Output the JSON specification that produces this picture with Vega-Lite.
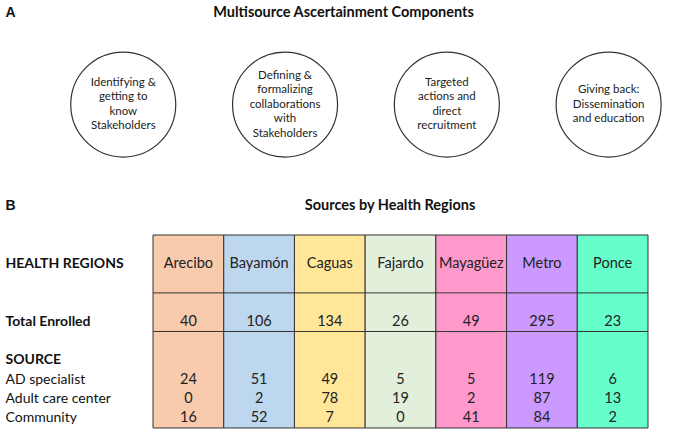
{
  "$schema": "https://vega.github.io/schema/vega-lite/v6.json",
  "width": 675,
  "height": 437,
  "autosize": {"type": "fit", "contains": "padding"},
  "padding": 0,
  "background": "white",
  "config": {"view": {"stroke": null}, "font": "Lato"},
  "resolve": {"scale": {"x": "independent"}},
  "layer": [
    {
      "data": {"values": [
        {"region": "Arecibo", "Total Enrolled": 40, "AD specialist": 24, "Adult care center": 0, "Community": 16},
        {"region": "Bayamón", "Total Enrolled": 106, "AD specialist": 51, "Adult care center": 2, "Community": 52},
        {"region": "Caguas", "Total Enrolled": 134, "AD specialist": 49, "Adult care center": 78, "Community": 7},
        {"region": "Fajardo", "Total Enrolled": 26, "AD specialist": 5, "Adult care center": 19, "Community": 0},
        {"region": "Mayagüez", "Total Enrolled": 49, "AD specialist": 5, "Adult care center": 2, "Community": 41},
        {"region": "Metro", "Total Enrolled": 295, "AD specialist": 119, "Adult care center": 87, "Community": 84},
        {"region": "Ponce", "Total Enrolled": 23, "AD specialist": 6, "Adult care center": 13, "Community": 2}
      ]},
      "layer": [
        {
          "mark": {"type": "rect", "stroke": "#333333", "strokeWidth": 1},
          "encoding": {
            "x": {"field": "region", "type": "nominal", "title": null, "axis": null,
                  "scale": {"type": "band", "domain": ["_pad", "Arecibo", "Bayamón", "Caguas", "Fajardo", "Mayagüez", "Metro", "Ponce"], "paddingInner": 0, "paddingOuter": 0.773, "align": 0.753}},
            "y": {"datum": "_h1", "type": "nominal", "bandPosition": 0, "title": null,
                  "scale": {"type": "band", "domain": ["A", "_1", "_2", "_3", "_4", "_5", "_6", "_7", "_8", "_9", "B", "_11", "_h1", "HEALTH REGIONS", "_h3", "_t1", "Total Enrolled", "_s1", "SOURCE", "AD specialist", "Adult care center", "Community"], "paddingInner": 0, "paddingOuter": 0.3212, "align": 0.274},
                  "axis": {"title": null, "domain": false, "ticks": false, "tickSize": 0, "grid": false,
                           "labelAlign": "left", "labelPadding": -5, "labelBaseline": "middle", "labelFontSize": 14,
                           "labelColor": "#111111", "labelOverlap": false, "labelBound": false, "labelFlush": false, "labelLimit": 300,
                           "labelExpr": "slice(datum.value, 0, 1) == '_' ? '' : datum.value",
                           "labelFont": {"condition": {"test": "datum.value == 'A' || datum.value == 'B'", "value": "Liberation Sans"}, "value": "Lato"},
                           "labelFontWeight": {"condition": {"test": "indexof(['A', 'B', 'HEALTH REGIONS', 'Total Enrolled', 'SOURCE'], datum.value) >= 0", "value": "bold"}, "value": "normal"}}},
            "y2": {"datum": "Community", "bandPosition": 1},
            "color": {"field": "region", "type": "nominal", "legend": null,
                      "scale": {"domain": ["Arecibo", "Bayamón", "Caguas", "Fajardo", "Mayagüez", "Metro", "Ponce"], "range": ["#F8CBAD", "#BDD7EE", "#FFE699", "#E2EFDA", "#FF99CC", "#CC99FF", "#66FFCC"]}}
          }
        },
        {
          "data": {"values": [{"row": "_t1"}, {"row": "_s1"}]},
          "mark": {"type": "rule", "stroke": "#333333", "strokeWidth": 1},
          "encoding": {
            "x": {"datum": "Arecibo", "type": "nominal", "bandPosition": 0, "title": null},
            "x2": {"datum": "Ponce", "bandPosition": 1},
            "y": {"field": "row", "type": "nominal", "bandPosition": 0, "title": null}
          }
        },
        {
          "mark": {"type": "text", "fontSize": 14.5, "color": "#222222", "baseline": "middle"},
          "encoding": {
            "x": {"field": "region", "type": "nominal", "title": null},
            "y": {"datum": "HEALTH REGIONS", "type": "nominal", "title": null},
            "text": {"field": "region"}
          }
        },
        {
          "transform": [{"fold": ["Total Enrolled", "AD specialist", "Adult care center", "Community"], "as": ["row", "value"]}],
          "mark": {"type": "text", "fontSize": 14.5, "color": "#222222", "baseline": "middle"},
          "encoding": {
            "x": {"field": "region", "type": "nominal", "title": null},
            "y": {"field": "row", "type": "nominal", "title": null},
            "text": {"field": "value", "type": "quantitative"}
          }
        },
        {
          "data": {"values": [{"title": "Multisource Ascertainment Components"}]},
          "mark": {"type": "text", "fontSize": 14.5, "fontWeight": "bold", "color": "#111111", "baseline": "middle"},
          "encoding": {
            "x": {"datum": "Caguas", "type": "nominal", "bandPosition": 0.694, "title": null},
            "y": {"datum": "A", "type": "nominal", "title": null},
            "text": {"field": "title"}
          }
        },
        {
          "data": {"values": [{"title": "Sources by Health Regions"}]},
          "mark": {"type": "text", "fontSize": 14.5, "fontWeight": "bold", "color": "#111111", "baseline": "middle"},
          "encoding": {
            "x": {"datum": "Fajardo", "type": "nominal", "bandPosition": 0.352, "title": null},
            "y": {"datum": "B", "type": "nominal", "title": null},
            "text": {"field": "title"}
          }
        }
      ]
    },
    {
      "data": {"values": [
        {"component": "Identifying", "label": "Identifying &\ngetting to\nknow\nStakeholders"},
        {"component": "Defining", "label": "Defining &\nformalizing\ncollaborations\nwith\nStakeholders"},
        {"component": "Targeted", "label": "Targeted\nactions and\ndirect\nrecruitment"},
        {"component": "Giving back", "label": "Giving back:\nDissemination\nand education"}
      ]},
      "layer": [
        {
          "mark": {"type": "point", "shape": "circle", "size": 11025, "filled": false, "stroke": "#333333", "strokeWidth": 1.2, "opacity": 1},
          "encoding": {
            "x": {"field": "component", "type": "nominal", "sort": null, "title": null, "axis": null,
                  "scale": {"type": "point", "padding": 0.586, "align": 0.65}},
            "y": {"datum": "_5", "type": "nominal", "bandPosition": 0.24, "title": null}
          }
        },
        {
          "mark": {"type": "text", "lineBreak": "\n", "fontSize": 11.5, "lineHeight": 14.5, "color": "#222222", "baseline": "middle", "align": "center",
                   "dy": {"expr": "-(length(split(datum.label, '\\n')) - 1) * 7.25"}},
          "encoding": {
            "x": {"field": "component", "type": "nominal", "sort": null, "title": null},
            "y": {"datum": "_5", "type": "nominal", "bandPosition": 0.24, "title": null},
            "text": {"field": "label"}
          }
        }
      ]
    }
  ]
}
